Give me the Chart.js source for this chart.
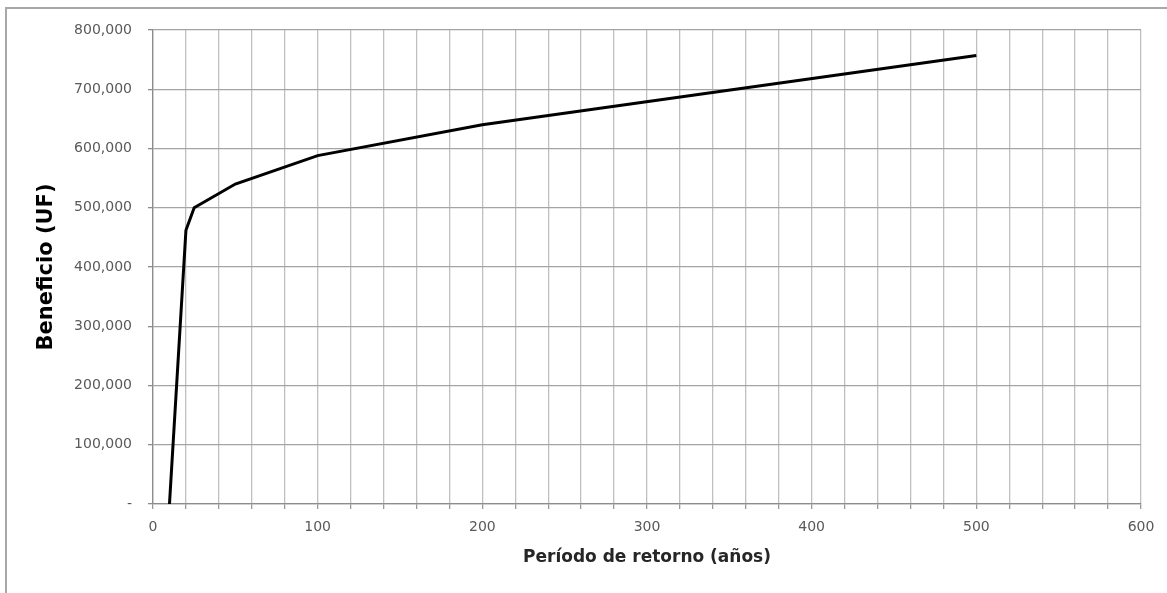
<!DOCTYPE html>
<html>
<head>
<meta charset="utf-8">
<script src="https://cdn.jsdelivr.net/npm/chart.js@4/dist/chart.umd.min.js"></script>
<style>
html,body{margin:0;padding:0;background:#fff;}
#wrap{position:relative;width:1167px;height:593px;}
</style>
</head>
<body>
<div id="wrap"><canvas id="c" width="1167" height="593"></canvas></div>
<script>
const returnPeriods = [10, 20, 25, 50, 100, 200, 500];
const benefitUF = [0, 462000, 500000, 540000, 588000, 640000, 757000];
const xTickLabels = [0, 100, 200, 300, 400, 500, 600];
const yTickLabels = ['-', '100,000', '200,000', '300,000', '400,000', '500,000', '600,000', '700,000', '800,000'];
const xTitle = 'Período de retorno (años)';
const yTitle = 'Beneficio (UF)';

const frame = {
  id: 'frame',
  beforeDraw(chart) {
    const ctx = chart.ctx;
    ctx.save();
    ctx.fillStyle = '#fff';
    ctx.fillRect(0, 0, chart.width, chart.height);
    ctx.strokeStyle = '#a8a8a8';
    ctx.lineWidth = 2;
    ctx.beginPath();
    ctx.moveTo(6, chart.height);
    ctx.lineTo(6, 8);
    ctx.lineTo(chart.width, 8);
    ctx.stroke();
    ctx.restore();
  }
};

const tickFont = '"DejaVu Sans", sans-serif';
const titleFont = '"DejaVu Sans", sans-serif';

new Chart(document.getElementById('c'), {
  type: 'line',
  data: {
    datasets: [{
      data: returnPeriods.map((x, i) => ({x: x, y: benefitUF[i]})),
      borderColor: '#000',
      borderWidth: 3,
      pointRadius: 0,
      tension: 0,
      fill: false
    }]
  },
  options: {
    responsive: false,
    animation: false,
    layout: {padding: {left: 8, top: 30, right: 26, bottom: 0}},
    plugins: {legend: {display: false}, tooltip: {enabled: false}},
    scales: {
      x: {
        type: 'linear',
        min: 0, max: 600,
        afterFit(s) { s.height = 89; },
        ticks: {
          stepSize: 20,
          autoSkip: false,
          maxRotation: 0,
          padding: 10,
          color: '#595959',
          font: {family: tickFont, size: 14},
          callback: (v) => xTickLabels.includes(v) ? String(v) : ''
        },
        grid: {color: '#c0c0c0', lineWidth: 1.3, tickLength: 5, tickColor: '#9a9a9a'},
        border: {color: '#8c8c8c', width: 1.3},
        title: {
          display: true,
          text: xTitle,
          color: '#262626',
          font: {family: titleFont, size: 17, weight: 'bold'},
          padding: {top: 0, bottom: 25}
        }
      },
      y: {
        min: 0, max: 800000,
        afterFit(s) { s.width = 145; },
        ticks: {
          stepSize: 100000,
          padding: 16,
          color: '#595959',
          font: {family: tickFont, size: 14},
          callback: (v) => yTickLabels[Math.round(v / 100000)]
        },
        grid: {color: '#a4a4a4', lineWidth: 1.3, tickLength: 5, tickColor: '#8c8c8c'},
        border: {color: '#8c8c8c', width: 1.3},
        title: {
          display: true,
          text: yTitle,
          color: '#000',
          font: {family: titleFont, size: 21, weight: 'bold'},
          padding: {top: 26}
        }
      }
    }
  },
  plugins: [frame]
});
</script>
</body>
</html>
